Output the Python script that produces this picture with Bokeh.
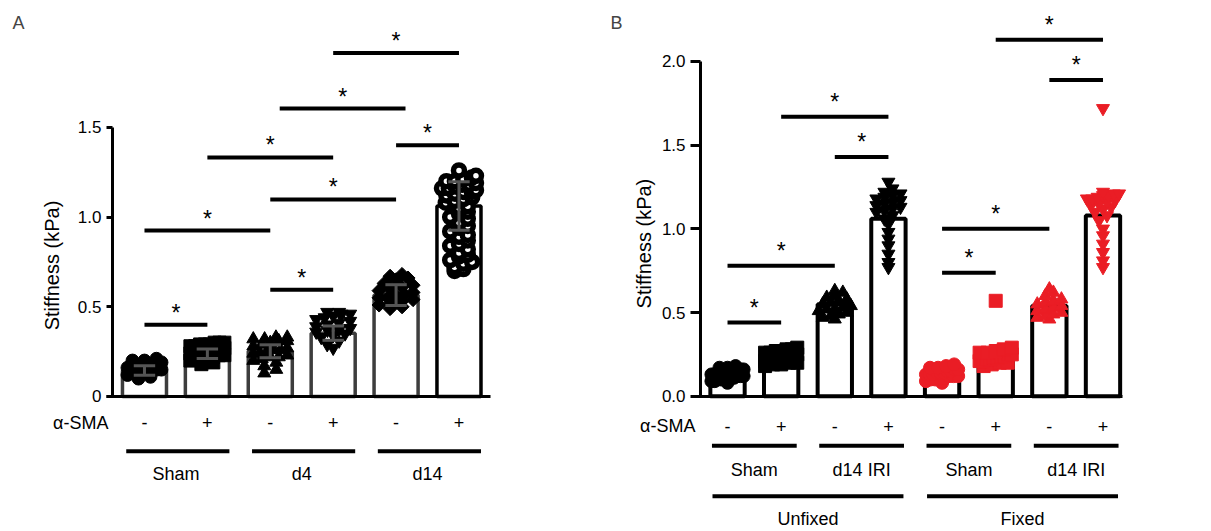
import numpy as np
from bokeh.plotting import figure
from bokeh.layouts import row
from bokeh.models import Range1d, LinearAxis, FixedTicker, PrintfTickFormatter, Label
from bokeh.core.properties import value
from bokeh.embed import file_html
from bokeh.resources import INLINE

FONT = "Liberation Sans"
RED = "#EA1D25"

# ---------------- Panel A data ----------------
a_groups = ["Sham", "d4", "d14"]
a_sma = ["-", "+", "-", "+", "-", "+"]
a_means = [0.145, 0.238, 0.252, 0.353, 0.565, 1.062]
a_sd = [0.026, 0.026, 0.036, 0.040, 0.058, 0.135]
a_sham_neg = [0.10, 0.11, 0.12, 0.13, 0.13, 0.14, 0.14, 0.15, 0.15, 0.15, 0.16, 0.16, 0.16,
              0.17, 0.17, 0.17, 0.18, 0.18, 0.18, 0.18, 0.19, 0.19, 0.19, 0.20, 0.20, 0.21]
a_sham_pos = [0.18, 0.19, 0.20, 0.21, 0.21, 0.22, 0.22, 0.23, 0.23, 0.24, 0.24, 0.25,
              0.25, 0.26, 0.27, 0.27, 0.28, 0.28, 0.29, 0.29, 0.29, 0.30, 0.30, 0.30]
a_d4_neg = [0.13, 0.15, 0.17, 0.19, 0.20, 0.21, 0.22, 0.22, 0.23, 0.24, 0.24, 0.25,
            0.26, 0.26, 0.27, 0.28, 0.29, 0.30, 0.31, 0.31, 0.32, 0.32, 0.33, 0.33]
a_d4_pos = [0.27, 0.29, 0.31, 0.33, 0.34, 0.35, 0.36, 0.37, 0.37, 0.38, 0.39, 0.40,
            0.41, 0.42, 0.43, 0.44, 0.45, 0.46, 0.46, 0.47, 0.47]
a_d14_neg = [0.49, 0.50, 0.51, 0.52, 0.53, 0.54, 0.55, 0.55, 0.56, 0.57, 0.58, 0.59,
             0.60, 0.61, 0.62, 0.63, 0.65, 0.66, 0.67, 0.68]
a_d14_pos = [0.70, 0.71, 0.72, 0.74, 0.75, 0.76, 0.78, 0.79, 0.80, 0.82, 0.84, 0.85,
             0.87, 0.89, 0.90, 0.92, 0.94, 0.95, 0.97, 0.99, 1.00, 1.02, 1.03, 1.05,
             1.06, 1.08, 1.09, 1.10, 1.11, 1.12, 1.13, 1.14, 1.14, 1.15, 1.16, 1.16,
             1.17, 1.18, 1.18, 1.19, 1.20, 1.20, 1.21, 1.22, 1.23, 1.26]
a_points = [a_sham_neg, a_sham_pos, a_d4_neg, a_d4_pos, a_d14_neg, a_d14_pos]
a_markers = ["circle", "square", "triangle", "inverted_triangle", "square", "circle"]
a_sig_from = [1, 3, 2, 3.15, 4, 5, 1, 3]
a_sig_to = [3, 5, 4, 5.15, 6, 6, 2, 4]
a_sig_y = [0.925, 1.098, 1.332, 1.605, 1.915, 1.400, 0.400, 0.595]

# ---------------- Panel B data ----------------
b_outer = ["Unfixed", "Fixed"]
b_groups = ["Sham", "d14 IRI", "Sham", "d14 IRI"]
b_sma = ["-", "+", "-", "+", "-", "+", "-", "+"]
b_means = [0.13, 0.24, 0.55, 1.06, 0.13, 0.25, 0.54, 1.08]
b_u_sham_neg = [0.08, 0.09, 0.09, 0.10, 0.10, 0.10, 0.11, 0.11, 0.11, 0.12, 0.12, 0.12,
                0.13, 0.13, 0.13, 0.14, 0.14, 0.14, 0.15, 0.15, 0.15, 0.16, 0.16, 0.16,
                0.17, 0.17, 0.18]
b_u_sham_pos = [0.18, 0.19, 0.19, 0.20, 0.20, 0.21, 0.21, 0.22, 0.22, 0.23, 0.23, 0.24,
                0.24, 0.25, 0.25, 0.26, 0.26, 0.27, 0.27, 0.28, 0.28, 0.29]
b_u_d14_neg = [0.46, 0.47, 0.48, 0.49, 0.50, 0.51, 0.52, 0.52, 0.53, 0.54, 0.55, 0.56,
               0.57, 0.58, 0.59, 0.60, 0.62, 0.63]
b_u_d14_pos = [0.77, 0.80, 0.85, 0.90, 0.94, 0.98, 1.03, 1.06, 1.08, 1.10, 1.11, 1.12,
               1.13, 1.14, 1.15, 1.16, 1.17, 1.18, 1.19, 1.20, 1.21, 1.22, 1.24, 1.28]
b_f_sham_neg = [0.08, 0.09, 0.10, 0.10, 0.11, 0.11, 0.12, 0.12, 0.12, 0.13, 0.13, 0.13,
                0.14, 0.14, 0.14, 0.15, 0.15, 0.16, 0.16, 0.17, 0.17, 0.18, 0.19]
b_f_sham_pos = [0.18, 0.19, 0.20, 0.20, 0.21, 0.21, 0.22, 0.22, 0.23, 0.23, 0.24, 0.24,
                0.25, 0.25, 0.26, 0.26, 0.27, 0.28, 0.29, 0.57]
b_f_d14_neg = [0.46, 0.47, 0.48, 0.49, 0.50, 0.51, 0.52, 0.53, 0.54, 0.55, 0.56, 0.57,
               0.58, 0.60, 0.62, 0.64]
b_f_d14_pos = [0.77, 0.81, 0.86, 0.91, 0.96, 1.00, 1.05, 1.08, 1.10, 1.12, 1.13, 1.14,
               1.15, 1.16, 1.17, 1.18, 1.18, 1.19, 1.20, 1.20, 1.21, 1.21, 1.22, 1.72]
b_points = [b_u_sham_neg, b_u_sham_pos, b_u_d14_neg, b_u_d14_pos,
            b_f_sham_neg, b_f_sham_pos, b_f_d14_neg, b_f_d14_pos]
b_markers = ["circle", "square", "triangle", "inverted_triangle"] * 2
b_colors = ["black"] * 4 + [RED] * 4
b_sig_from = [1, 2, 3, 5, 5, 6, 7, 1]
b_sig_to = [3, 4, 4, 7, 6, 8, 8, 2]
b_sig_y = [0.78, 1.67, 1.43, 1.0, 0.737, 2.13, 1.89, 0.44]


def swarm(vals, binw, step, maxhalf, stagger=0.0):
    """Histogram-style scatter layout: points in the same value bin are spread sideways."""
    bins = {}
    for v in sorted(vals):
        bins.setdefault(int(np.floor(v / binw + 1e-9)), []).append(v)
    offs, ys = [], []
    for r, k in enumerate(sorted(bins)):
        grp = bins[k]
        n = len(grp)
        st = min(step, 2 * maxhalf / (n - 1)) if n > 1 else 0.0
        shift = stagger if (r % 2 and n > 1) else 0.0
        for j, v in enumerate(grp):
            o = (j - (n - 1) / 2) * st + shift
            offs.append(max(-maxhalf, min(maxhalf, o)))
            ys.append(v)
    return offs, ys


def style_axis(ax, size, tick_out):
    ax.axis_line_width = 3
    ax.axis_line_color = "black"
    ax.major_tick_line_width = 3
    ax.major_tick_line_color = "black"
    ax.major_tick_out = tick_out
    ax.major_tick_in = 0
    ax.minor_tick_line_color = None
    ax.major_label_text_font = FONT
    ax.major_label_text_font_size = size
    ax.major_label_text_color = "black"
    ax.major_label_standoff = 5


def make_panel(width, xr, yr, yfix, ybounds, yticks, xbounds, tick_out, fmt_over):
    p = figure(width=width, height=531, x_range=Range1d(*xr), y_range=Range1d(*yr),
               output_backend="svg", toolbar_location=None, min_border=0,
               x_axis_location=None, y_axis_location=None, outline_line_color=None)
    p.grid.visible = False
    yax = LinearAxis(fixed_location=yfix, bounds=ybounds, ticker=FixedTicker(ticks=yticks),
                     formatter=PrintfTickFormatter(format="%.1f"),
                     major_label_overrides=fmt_over)
    style_axis(yax, "17px", tick_out)
    p.add_layout(yax, "left")
    xax = LinearAxis(fixed_location=0, bounds=xbounds, ticker=FixedTicker(ticks=[]))
    style_axis(xax, "17px", 0)
    p.add_layout(xax, "below")
    return p


TXT = dict(text_font=value(FONT), text_font_size="18px", text_align="center",
           text_baseline="middle")

# ================= Panel A =================
sA = 179.3  # px per data unit (y)
pA = make_panel(600, (-1.289, 8.25), (-0.7525, 2.207), 0.49, (0, 1.5),
                [0, 0.5, 1.0, 1.5], (0.396, 6.50), 6, {0: "0"})
xa = list(range(1, 7))
a_line = ["#3d3d3d"] * 5 + ["black"]
pA.vbar(x=xa, top=a_means, width=0.7, fill_color="white", line_color=a_line, line_width=3.5)
for i, vals in enumerate(a_points):
    if i == 5:
        offs, vs = swarm(vals, 0.04, 0.14, 0.27, stagger=0.07)
        xs = [xa[i] + o for o in offs]
        pA.scatter(xs, vs, marker="circle", size=11, fill_color="white",
                   line_color="black", line_width=5.5)
    else:
        offs, vs = swarm(vals, 0.039, 0.19, 0.27)
        xs = [xa[i] + o for o in offs]
        if i == 4:
            pA.scatter(xs, vs, marker="square", size=10, angle=np.pi / 4,
                       fill_color="black", line_color="black")
        else:
            pA.scatter(xs, vs, marker=a_markers[i], size=13, fill_color="black",
                       line_color="black")
lo = [m - s for m, s in zip(a_means, a_sd)]
hi = [m + s for m, s in zip(a_means, a_sd)]
pA.segment(x0=xa, y0=lo, x1=xa, y1=hi, line_color="#555555", line_width=3)
cap = 0.17
pA.segment(x0=[x - cap for x in xa], y0=lo, x1=[x + cap for x in xa], y1=lo,
           line_color="#555555", line_width=3)
pA.segment(x0=[x - cap for x in xa], y0=hi, x1=[x + cap for x in xa], y1=hi,
           line_color="#555555", line_width=3)
# significance bars
pA.segment(x0=a_sig_from, y0=a_sig_y, x1=a_sig_to, y1=a_sig_y, line_color="black", line_width=4)
pA.text(x=[(a + b) / 2 for a, b in zip(a_sig_from, a_sig_to)], y=[v + 12 / sA for v in a_sig_y],
        text=["*"] * len(a_sig_y), **dict(TXT, text_font_size="23px"))
# category annotations
pA.text(x=[0.428], y=[-26 / sA], text=["α-SMA"], **dict(TXT, text_align="right"))
pA.text(x=xa, y=[-26 / sA] * 6, text=a_sma, **TXT)
g_mid = [1.5, 3.5, 5.5]
pA.segment(x0=[m + 0.03 - 0.82 for m in g_mid], y0=[-54.7 / sA] * 3,
           x1=[m + 0.03 + 0.82 for m in g_mid], y1=[-54.7 / sA] * 3,
           line_color="black", line_width=4)
pA.text(x=g_mid, y=[-77 / sA] * 3, text=a_groups, **TXT)
pA.text(x=[-0.463], y=[0.73], text=["Stiffness (kPa)"], angle=np.pi / 2,
        **dict(TXT, text_font_size="20px"))
pA.add_layout(Label(x=12, y=509, x_units="screen", y_units="screen", text="A",
                    text_font=FONT, text_font_size="18px", text_baseline="alphabetic"))

# ================= Panel B =================
sB = 167.35
pB = make_panel(611, (-1.368, 10.023), (-0.8085, 2.3645), 0.497, (0, 2.0),
                [0, 0.5, 1.0, 1.5, 2.0], (0.347, 8.37), 10, {})
xb = list(range(1, 9))
pB.vbar(x=xb, top=b_means, width=0.64, fill_color="white", line_color="black", line_width=4)
for i, vals in enumerate(b_points):
    offs, vs = swarm(vals, 0.042, 0.15, 0.3)
    xs = [xb[i] + o for o in offs]
    pB.scatter(xs, vs, marker=b_markers[i], size=13, fill_color=b_colors[i],
               line_color=b_colors[i])
pB.segment(x0=b_sig_from, y0=b_sig_y, x1=b_sig_to, y1=b_sig_y, line_color="black", line_width=4)
pB.text(x=[(a + b) / 2 for a, b in zip(b_sig_from, b_sig_to)], y=[v + 15 / sB for v in b_sig_y],
        text=["*"] * len(b_sig_y), **dict(TXT, text_font_size="23px"))
pB.text(x=[0.403], y=[-30 / sB], text=["α-SMA"], **dict(TXT, text_align="right"))
pB.text(x=xb, y=[-30 / sB] * 8, text=b_sma, **TXT)
bg_mid = [1.5, 3.5, 5.5, 7.5]
pB.segment(x0=[m - 0.79 for m in bg_mid], y0=[-49.5 / sB] * 4,
           x1=[m + 0.79 for m in bg_mid], y1=[-49.5 / sB] * 4, line_color="black", line_width=4)
pB.text(x=bg_mid, y=[-73.5 / sB] * 4, text=b_groups, **TXT)
bo_mid = [2.5, 6.5]
pB.segment(x0=[m - 1.78 for m in bo_mid], y0=[-100 / sB] * 2,
           x1=[m + 1.78 for m in bo_mid], y1=[-100 / sB] * 2, line_color="black", line_width=4)
pB.text(x=bo_mid, y=[-122.5 / sB] * 2, text=b_outer, **TXT)
pB.text(x=[-0.566], y=[0.912], text=["Stiffness (kPa)"], angle=np.pi / 2,
        **dict(TXT, text_font_size="20px"))
pB.add_layout(Label(x=10, y=509, x_units="screen", y_units="screen", text="B",
                    text_font=FONT, text_font_size="18px", text_baseline="alphabetic"))

layout = row(pA, pB)
open("out.html", "w").write(file_html(layout, INLINE))
